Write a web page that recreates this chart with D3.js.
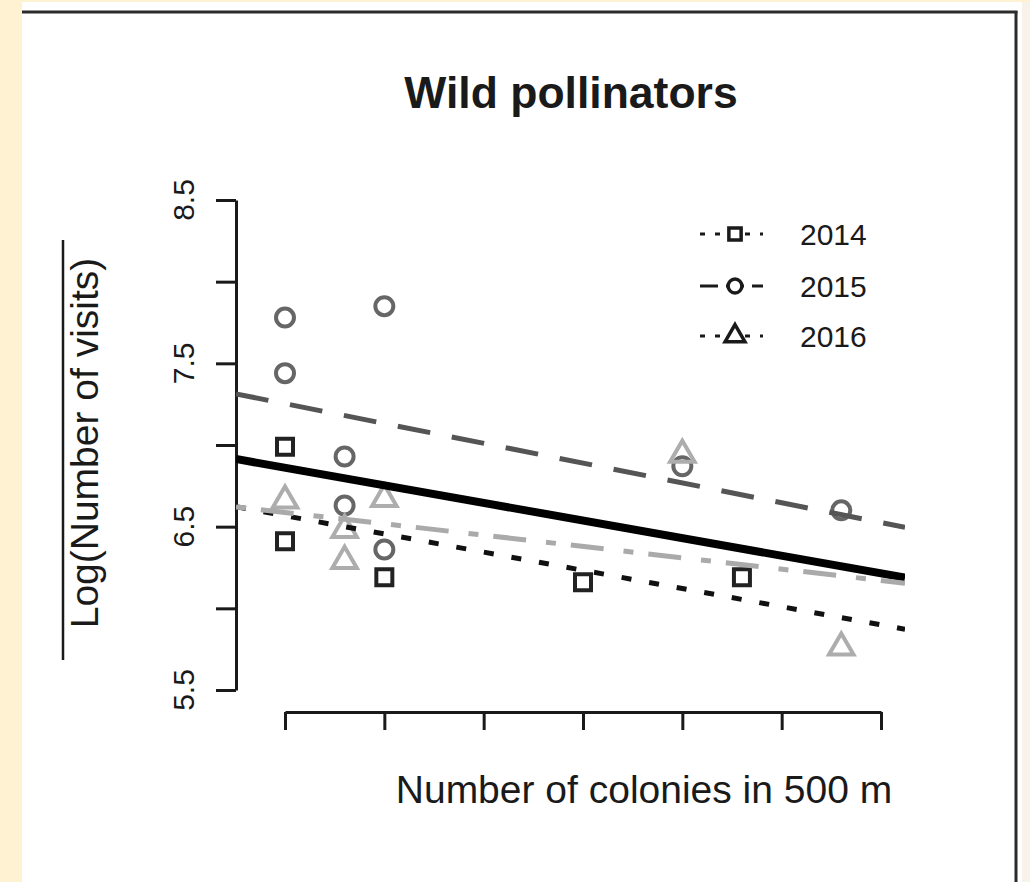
<!DOCTYPE html>
<html>
<head>
<meta charset="utf-8">
<script src="https://cdn.jsdelivr.net/npm/d3@7"></script>
<style>
  html, body { margin: 0; padding: 0; background: #fff2d3; }
  svg { display: block; }
  text { font-family: "Liberation Sans", Arial, Helvetica, sans-serif; fill: #1a1a1a; }
</style>
</head>
<body>
<svg id="chart" width="1030" height="882"></svg>
<script>
// Axis ticks (number of colonies, log visits)
const xTicks = [0, 5, 10, 15, 20, 25, 30];
const yTicks = [5.5, 6, 6.5, 7, 7.5, 8, 8.5];
const yTickLabels = ["5.5", "", "6.5", "", "7.5", "", "8.5"];

// Observations per year
const colonies2014 = [0, 0, 5, 15, 23];
const visits2014   = [6.99, 6.41, 6.19, 6.16, 6.19];
const colonies2015 = [0, 0, 3, 3, 5, 5, 20, 28];
const visits2015   = [7.78, 7.44, 6.93, 6.63, 7.85, 6.36, 6.87, 6.60];
const colonies2016 = [0, 3, 3, 5, 20, 28];
const visits2016   = [6.66, 6.48, 6.29, 6.67, 6.94, 5.76];

// Fitted regression lines: pooled model and one per year
const fitNames      = ["all", "2014", "2015", "2016"];
const fitIntercepts = [6.861, 6.567, 7.253, 6.587];
const fitSlopes     = [-0.02156, -0.02228, -0.02426, -0.01388];

const legendYears = ["2014", "2015", "2016"];

const svg = d3.select("#chart");

// panel
svg.append("rect").attr("x", 22).attr("y", 2).attr("width", 1000).attr("height", 880).attr("fill", "#ffffff");
svg.append("rect").attr("x", 1022).attr("y", 2).attr("width", 8).attr("height", 880).attr("fill", "#f7f3ea");
svg.append("line").attr("x1", 22).attr("x2", 1017.5).attr("y1", 12).attr("y2", 12)
  .attr("stroke", "#2b2b2b").attr("stroke-width", 3);
svg.append("line").attr("x1", 1016).attr("x2", 1016).attr("y1", 11).attr("y2", 882)
  .attr("stroke", "#2b2b2b").attr("stroke-width", 3);

const x = d3.scaleLinear().domain([0, 30]).range([285, 881]);
const y = d3.scaleLinear().domain([5.5, 8.5]).range([690, 200]);

const plotLeft = 236, plotRight = 905, plotTop = 180, plotBottom = 712;

// title
svg.append("text").attr("x", 571).attr("y", 108).attr("text-anchor", "middle")
  .attr("font-size", 44.5).attr("font-weight", "bold").text("Wild pollinators");

// y axis
const yAxis = svg.append("g").attr("transform", `translate(${plotLeft},0)`)
  .call(d3.axisLeft(y).tickValues(yTicks).tickSize(20).tickSizeOuter(0).tickFormat(""));
yAxis.selectAll("path, line").attr("stroke", "#1a1a1a").attr("stroke-width", 3);

svg.append("g").selectAll("text").data(yTicks).join("text")
  .attr("transform", d => `translate(194,${y(d)}) rotate(-90)`)
  .attr("text-anchor", "middle").attr("font-size", 30)
  .text((d, i) => yTickLabels[i]);

// x axis
const xAxis = svg.append("g").attr("transform", `translate(0,${plotBottom})`)
  .call(d3.axisBottom(x).tickValues(xTicks).tickSize(18).tickSizeOuter(0).tickFormat(""));
xAxis.selectAll("path, line").attr("stroke", "#1a1a1a").attr("stroke-width", 3);

// axis titles
svg.append("text").attr("x", 644).attr("y", 803).attr("text-anchor", "middle")
  .attr("font-size", 39).text("Number of colonies in 500 m");
svg.append("text").attr("transform", "translate(98,443) rotate(-90)").attr("text-anchor", "middle")
  .attr("font-size", 39).text("Log(Number of visits)");
svg.append("line").attr("x1", 63).attr("x2", 63).attr("y1", 240).attr("y2", 660)
  .attr("stroke", "#1a1a1a").attr("stroke-width", 2.5);

// points
const sym = (type, size) => d3.symbol().type(type).size(size)();
const series = [
  { xs: colonies2014, ys: visits2014, type: d3.symbolSquare,   size: 256, color: "#222222" },
  { xs: colonies2015, ys: visits2015, type: d3.symbolCircle,   size: 254, color: "#666666" },
  { xs: colonies2016, ys: visits2016, type: d3.symbolTriangle, size: 260, color: "#adadad" }
];
const pts = svg.append("g");
series.forEach(s => {
  pts.selectAll(null).data(s.xs.map((c, i) => [c, s.ys[i]])).join("path")
    .attr("transform", d => `translate(${x(d[0])},${y(d[1])})`)
    .attr("d", sym(s.type, s.size))
    .attr("fill", "none").attr("stroke", s.color).attr("stroke-width", 4);
});

// regression lines
svg.append("clipPath").attr("id", "plotclip").append("rect")
  .attr("x", plotLeft).attr("y", plotTop).attr("width", plotRight - plotLeft).attr("height", plotBottom - plotTop);

const lineStyle = {
  "all":  { color: "#000000", width: 8, dash: null, offset: 0 },
  "2014": { color: "#111111", width: 5, dash: "10 18", offset: 0 },
  "2015": { color: "#555555", width: 5, dash: "33 22", offset: 0 },
  "2016": { color: "#aaaaaa", width: 5, dash: "33 20 10 15", offset: 53 }
};
const x0 = x.invert(plotLeft), x1 = x.invert(plotRight);
const lineGen = d3.line().x(d => x(d[0])).y(d => y(d[1]));
const lines = svg.append("g").attr("clip-path", "url(#plotclip)");
fitNames.forEach((name, i) => {
  const st = lineStyle[name];
  const f = c => fitIntercepts[i] + fitSlopes[i] * c;
  lines.append("path")
    .attr("d", lineGen([[x0, f(x0)], [x1, f(x1)]]))
    .attr("fill", "none").attr("stroke", st.color).attr("stroke-width", st.width)
    .attr("stroke-dasharray", st.dash).attr("stroke-dashoffset", st.offset);
});

// legend
const legendRows = [234, 286, 336];
const legendDash = ["5 10", "18 8", "5 10"];
const legendSym = [
  sym(d3.symbolSquare, 150), sym(d3.symbolCircle, 150), sym(d3.symbolTriangle, 170)
];
const lg = svg.append("g");
legendYears.forEach((yr, i) => {
  const ry = legendRows[i];
  lg.append("line").attr("x1", 700).attr("x2", 763).attr("y1", ry).attr("y2", ry)
    .attr("stroke", "#1a1a1a").attr("stroke-width", 3).attr("stroke-dasharray", legendDash[i]);
  lg.append("path").attr("transform", `translate(735,${ry})`).attr("d", legendSym[i])
    .attr("fill", "#ffffff").attr("stroke", "#1a1a1a").attr("stroke-width", 3.5);
  lg.append("text").attr("x", 800).attr("y", ry + 11).attr("font-size", 30).text(yr);
});
</script>
</body>
</html>
